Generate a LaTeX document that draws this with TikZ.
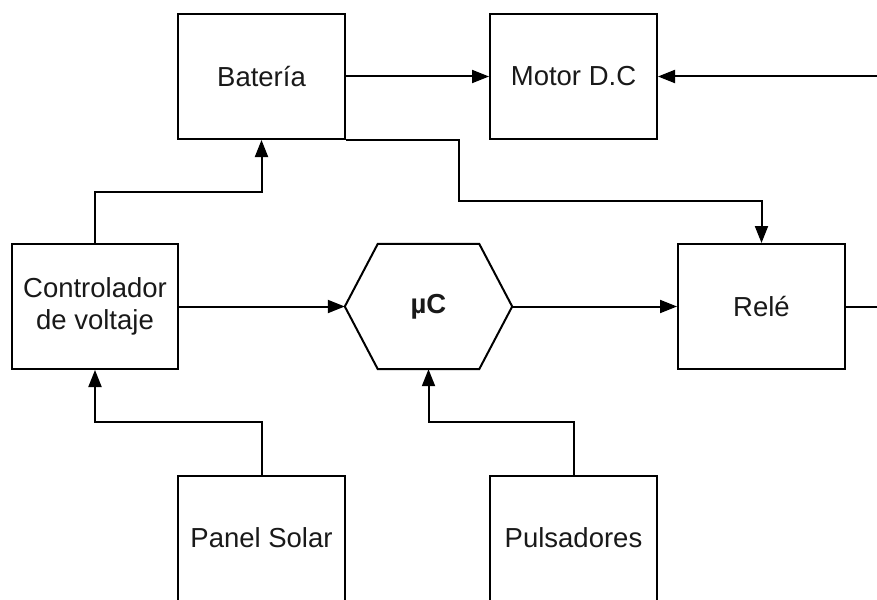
\documentclass[tikz,border=0pt]{standalone}
\usepackage{fontspec}
\setmainfont{Liberation Sans}
\usetikzlibrary{arrows.meta}
\tikzset{
  blk/.style={draw=black, line width=2pt, minimum width=167pt, minimum height=125pt,
    inner sep=0pt, align=center, font=\fontsize{27.5}{32}\selectfont, text=black!90},
  hexbox/.style={minimum width=167pt, minimum height=125pt, inner sep=0pt,
    font=\fontsize{27.5}{32}\selectfont\bfseries, text=black!90},
  hexline/.style={draw=black, line width=2pt, line join=miter},
  conn/.style={draw=black, line width=2pt, -{Triangle[length=17pt,width=13pt]}},
  plain/.style={draw=black, line width=2pt}
}
\begin{document}
\begin{tikzpicture}[x=1pt,y=-1pt]
\useasboundingbox (0,0) rectangle (877,599);
\clip (0,0) rectangle (877,599);
\node[blk] (bat) at (261.5,76.5) {Batería};
\node[blk] (motor) at (573.5,76.5) {Motor D.C};
\node[blk, minimum width=166pt] (ctrl) at (95,306.5) {Controlador\\de voltaje};
\node[hexbox] (uc) at (428.5,306.5) {µC};
\draw[hexline] (uc.west) -- ([xshift=33pt]uc.north west) -- ([xshift=-33pt]uc.north east)
  -- (uc.east) -- ([xshift=-33pt]uc.south east) -- ([xshift=33pt]uc.south west) -- cycle;
\node[blk] (rele) at (761.5,306.5) {Relé};
\node[blk] (panel) at (261.5,538) {Panel Solar};
\node[blk] (puls) at (573.5,538) {Pulsadores};

\coordinate (rin) at (877,76.5);
\coordinate (rout) at (877,306.5);
\coordinate (c1) at (459,201);
\coordinate (c2) at (261.5,192);
\coordinate (c3) at (95,422);
\coordinate (c4) at (428.5,422);

\draw[conn] (bat.east) -- (motor.west);
\draw[conn] (rin) -- (motor.east);
\draw[conn] (bat.south east) -| (c1) -| (rele.north);
\draw[conn] (ctrl.north) |- (c2) -- (bat.south);
\draw[conn] (ctrl.east) -- (uc.west);
\draw[conn] (uc.east) -- (rele.west);
\draw[plain] (rele.east) -- (rout);
\draw[conn] (panel.north) |- (c3) -- (ctrl.south);
\draw[conn] (puls.north) |- (c4) -- (uc.south);
\end{tikzpicture}
\end{document}
